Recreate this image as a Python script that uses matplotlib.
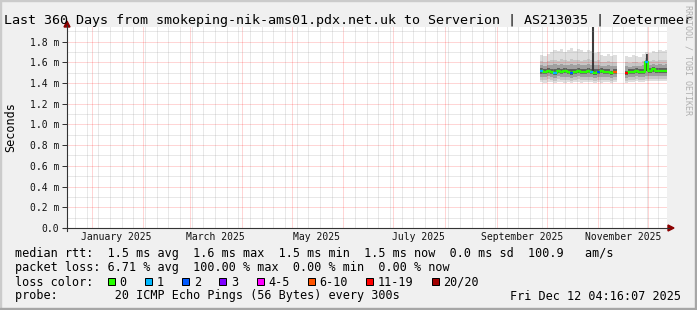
import numpy as np
import pandas as pd
import matplotlib
matplotlib.use("Agg")
import matplotlib.pyplot as plt
import matplotlib.dates as mdates
from matplotlib.lines import Line2D
from matplotlib.patches import Polygon, Rectangle
from matplotlib.ticker import MultipleLocator, FuncFormatter

W, H = 697, 310
MONO = "DejaVu Sans Mono"
plt.rcParams["font.family"] = [MONO, "DejaVu Sans"]

nan = np.nan

title = "Last 360 Days from smokeping-nik-ams01.pdx.net.uk to Serverion | AS213035 | Zoetermeer"
chart_start = "2024-12-17 04:16:07"
chart_end = "2025-12-12 04:16:07"

# consolidated samples (2 days each), rows with nan = no data
sample_times = [
    "2025-09-27", "2025-09-29", "2025-10-01", "2025-10-03", "2025-10-05", "2025-10-07",
    "2025-10-09", "2025-10-11", "2025-10-13", "2025-10-15", "2025-10-17", "2025-10-19",
    "2025-10-21", "2025-10-23", "2025-10-25", "2025-10-27", "2025-10-29", "2025-10-31",
    "2025-11-02", "2025-11-04", "2025-11-06", "2025-11-08", "2025-11-10", "2025-11-12",
    "2025-11-17", "2025-11-19", "2025-11-21", "2025-11-23", "2025-11-25", "2025-11-27",
    "2025-11-29", "2025-12-01", "2025-12-03", "2025-12-05", "2025-12-07", "2025-12-09",
    "2025-12-11", "2025-12-12 04:16:07",
]
# milliseconds
median_rtt = [1.52, 1.51, 1.52, 1.51, 1.50, 1.52, 1.51, 1.52, 1.51, 1.50, 1.51, 1.52,
              1.51, 1.51, 1.52, 1.51, 1.50, 1.51, 1.52, 1.51, 1.51, 1.50, 1.51, nan,
              1.50, 1.51, 1.51, 1.52, 1.51, 1.51, 1.60, 1.52, 1.53, 1.52, 1.52, 1.52,
              1.52, nan]
loss_pings = [1, 0, 0, 0, 1, 0, 0, 0, 0, 2, 0, 0,
              0, 0, 0, 1, 0, 2, 0, 0, 0, 0, 7, nan,
              12, 0, 0, 0, 0, 0, 1, 0, 0, 0, 0, 0,
              0, nan]
smoke_max = [1.67, 1.66, 1.68, 1.70, 1.72, 1.71, 1.73, 1.70, 1.72, 1.74, 1.71, 1.73,
             1.72, 1.70, 1.72, 1.71, 1.69, 1.70, 1.67, 1.66, 1.68, 1.66, 1.67, nan,
             1.66, 1.65, 1.67, 1.66, 1.65, 1.68, 1.70, 1.69, 1.71, 1.70, 1.72, 1.71,
             1.72, nan]
smoke_p90 = [1.61, 1.60, 1.61, 1.62, 1.62, 1.61, 1.63, 1.62, 1.61, 1.63, 1.62, 1.62,
             1.61, 1.62, 1.63, 1.62, 1.61, 1.62, 1.60, 1.60, 1.61, 1.60, 1.60, nan,
             1.60, 1.59, 1.60, 1.60, 1.59, 1.61, 1.64, 1.61, 1.62, 1.61, 1.62, 1.62,
             1.62, nan]
smoke_p75 = [1.57, 1.56, 1.57, 1.57, 1.58, 1.57, 1.58, 1.57, 1.57, 1.58, 1.57, 1.58,
             1.57, 1.57, 1.58, 1.57, 1.57, 1.57, 1.56, 1.56, 1.57, 1.56, 1.56, nan,
             1.56, 1.55, 1.56, 1.56, 1.56, 1.57, 1.62, 1.57, 1.58, 1.57, 1.58, 1.57,
             1.58, nan]
smoke_p60 = [1.54, 1.53, 1.54, 1.53, 1.53, 1.54, 1.53, 1.54, 1.53, 1.53, 1.53, 1.54,
             1.53, 1.53, 1.54, 1.53, 1.53, 1.53, 1.54, 1.53, 1.53, 1.52, 1.53, nan,
             1.52, 1.53, 1.53, 1.54, 1.53, 1.53, 1.61, 1.54, 1.55, 1.54, 1.54, 1.54,
             1.54, nan]
smoke_p40 = [1.49, 1.49, 1.50, 1.49, 1.48, 1.50, 1.49, 1.50, 1.49, 1.48, 1.49, 1.50,
             1.49, 1.49, 1.50, 1.49, 1.48, 1.49, 1.50, 1.49, 1.49, 1.48, 1.49, nan,
             1.48, 1.49, 1.49, 1.50, 1.49, 1.49, 1.52, 1.50, 1.51, 1.50, 1.50, 1.50,
             1.50, nan]
smoke_p25 = [1.46, 1.46, 1.47, 1.46, 1.45, 1.47, 1.46, 1.46, 1.46, 1.45, 1.46, 1.47,
             1.46, 1.46, 1.46, 1.46, 1.45, 1.46, 1.46, 1.46, 1.46, 1.45, 1.46, nan,
             1.45, 1.46, 1.46, 1.47, 1.46, 1.46, 1.47, 1.47, 1.47, 1.47, 1.47, 1.47,
             1.47, nan]
smoke_p10 = [1.43, 1.43, 1.44, 1.43, 1.42, 1.44, 1.43, 1.43, 1.43, 1.42, 1.43, 1.44,
             1.43, 1.43, 1.43, 1.43, 1.42, 1.43, 1.43, 1.43, 1.43, 1.42, 1.43, nan,
             1.42, 1.43, 1.43, 1.44, 1.43, 1.43, 1.44, 1.44, 1.44, 1.44, 1.44, 1.44,
             1.44, nan]
smoke_min = [1.41, 1.40, 1.41, 1.41, 1.40, 1.41, 1.41, 1.40, 1.41, 1.40, 1.41, 1.41,
             1.40, 1.41, 1.41, 1.41, 1.40, 1.41, 1.40, 1.41, 1.41, 1.40, 1.41, nan,
             1.40, 1.41, 1.41, 1.42, 1.41, 1.41, 1.42, 1.42, 1.42, 1.42, 1.42, 1.42,
             1.42, nan]

# single-step outliers
spike_times = ["2025-10-28 12:00", "2025-11-30 00:00"]
spike_low = [1.51, 1.52]
spike_high = [1.96, 1.68]

label_months = ["2025-01-01", "2025-03-01", "2025-05-01", "2025-07-01", "2025-09-01", "2025-11-01"]
label_texts = ["January 2025", "March 2025", "May 2025", "July 2025", "September 2025", "November 2025"]

loss_labels = ["0", "1", "2", "3", "4-5", "6-10", "11-19", "20/20"]
loss_colors = ["#26ff00", "#00b8ff", "#0059ff", "#7e00ff", "#ff00ff", "#ff5500", "#ff0000", "#a10000"]
loss_upper = [0, 1, 2, 3, 5, 10, 19, 20]

legend_lines = [
    "median rtt:  1.5 ms avg  1.6 ms max  1.5 ms min  1.5 ms now  0.0 ms sd  100.9   am/s",
    "packet loss: 6.71 % avg  100.00 % max  0.00 % min  0.00 % now",
]
probe_text = "probe:        20 ICMP Echo Pings (56 Bytes) every 300s"
stamp_text = "Fri Dec 12 04:16:07 2025"


def px(x, y):
    """pixel position -> figure fraction"""
    return x / W, 1 - y / H


def loss_color(n):
    for up, col in zip(loss_upper, loss_colors):
        if n <= up:
            return col
    return loss_colors[-1]


fig = plt.figure(figsize=(W / 100, H / 100), dpi=100, facecolor="#f0f0f0")
ax = fig.add_axes([67 / W, 1 - 228 / H, 600 / W, 201 / H])
ax.set_facecolor("white")
for s in ax.spines.values():
    s.set_visible(False)

t = mdates.date2num(pd.to_datetime(sample_times, format="ISO8601"))


def steps(v):
    v = np.asarray(v, dtype=float)
    return np.repeat(t, 2)[1:], np.repeat(v, 2)[:-1]


# smoke
smoke_layers = [
    (smoke_min, smoke_max, "#dedede"),
    (smoke_p10, smoke_p90, "#c6c6c6"),
    (smoke_p25, smoke_p75, "#a0a0a0"),
    (smoke_p40, smoke_p60, "#606060"),
]
for lo, hi, col in smoke_layers:
    xs, ylo = steps(lo)
    _, yhi = steps(hi)
    ax.fill_between(xs, ylo, yhi, color=col, lw=0, zorder=1)

ax.vlines(mdates.date2num(pd.to_datetime(spike_times, format="ISO8601")), spike_low, spike_high,
          color="#3c3c3c", lw=1.5, zorder=2)

# median line coloured by loss
xs, ym = steps(median_rtt)
ax.plot(xs, ym, color=loss_colors[0], lw=1.6, zorder=3, solid_capstyle="butt")
for i in range(len(t) - 1):
    if not np.isnan(loss_pings[i]) and loss_pings[i] > 0:
        ax.hlines(median_rtt[i], t[i], t[i + 1], color=loss_color(loss_pings[i]),
                  lw=1.6, zorder=4)

ax.set_xlim(mdates.date2num(pd.Timestamp(chart_start)), mdates.date2num(pd.Timestamp(chart_end)))
ax.set_ylim(0, 1.94)

# grid
ax.xaxis.set_major_locator(mdates.MonthLocator())
ax.xaxis.set_minor_locator(mdates.WeekdayLocator(byweekday=mdates.SU))
ax.yaxis.set_major_locator(MultipleLocator(0.2))
ax.yaxis.set_minor_locator(MultipleLocator(0.1))
ax.set_axisbelow(False)
ax.grid(which="minor", color="#9a9a9a", alpha=0.45, ls=(0, (1, 1)), lw=0.72)
ax.grid(which="major", color="#ff0000", alpha=0.33, ls=(0, (1, 1)), lw=0.72)

ax.yaxis.set_major_formatter(FuncFormatter(lambda v, p: "0.0" if abs(v) < 1e-9 else f"{v:.1f} m"))
ax.tick_params(axis="y", which="major", length=3.5, width=0.72, color="#333333",
               pad=2.2, labelsize=7, labelcolor="#111111")
ax.tick_params(axis="y", which="minor", length=0)
ax.tick_params(axis="x", which="both", length=0, labelbottom=False)

for m, txt in zip(label_months, label_texts):
    xm = mdates.date2num(pd.Timestamp(m) + pd.Timedelta(days=15))
    ax.text(xm, (228 - 240.5) / 201, txt, transform=ax.get_xaxis_transform(),
            ha="center", va="baseline", fontsize=7, color="#111111")

# axis lines with arrows
axis_col = "#333333"
fig.add_artist(Line2D([px(63, 0)[0], px(669, 0)[0]], [px(0, 228)[1]] * 2,
                      color=axis_col, lw=0.8, transform=fig.transFigure))
fig.add_artist(Line2D([px(67, 0)[0]] * 2, [px(0, 231)[1], px(0, 25)[1]],
                      color=axis_col, lw=0.8, transform=fig.transFigure))
fig.add_artist(Polygon([px(64, 27), px(70, 27), px(67, 21)], closed=True,
                       color="#8b0000", transform=fig.transFigure))
fig.add_artist(Polygon([px(668, 225), px(668, 231), px(674, 228)], closed=True,
                       color="#8b0000", transform=fig.transFigure))

# texts
fig.text(*px(348.5, 24), title, ha="center", va="baseline", fontsize=9.65, color="black")
fig.text(*px(10.5, 127.5), "Seconds", rotation=90, ha="center", va="center", fontsize=8.5)
fig.text(*px(688, 60), "RRDTOOL / TOBI OETIKER", rotation=270, ha="center", va="center",
         fontsize=6, color="#b0b0b0")

base = 257.5
for i, line in enumerate(legend_lines):
    fig.text(*px(15, base + 14 * i), line, ha="left", va="baseline", fontsize=8.5)
fig.text(*px(15, base + 28), "loss color:", ha="left", va="baseline", fontsize=8.5)
bx = 108
for lab, col in zip(loss_labels, loss_colors):
    fig.add_artist(Rectangle(px(bx, 285), 7 / W, 7 / H, facecolor=col, edgecolor="black",
                             lw=0.72, transform=fig.transFigure))
    fig.text(*px(bx + 11.5, base + 28), lab, ha="left", va="baseline", fontsize=8.5)
    bx += 12.5 + 7.13 * len(lab) + 17.5
fig.text(*px(15, base + 42), probe_text, ha="left", va="baseline", fontsize=8.5)
fig.text(*px(681, base + 42), stamp_text, ha="right", va="baseline", fontsize=8.5)

# border shading
fig.add_artist(Rectangle((0, 1 - 1 / H), 1, 1 / H, color="#cbcbcb", transform=fig.transFigure))
fig.add_artist(Rectangle((0, 0), 1 / W, 1, color="#cbcbcb", transform=fig.transFigure))
fig.add_artist(Rectangle((0, 0), 1, 2 / H, color="#a6a6a6", transform=fig.transFigure))
fig.add_artist(Rectangle((1 - 2 / W, 0), 2 / W, 1, color="#a6a6a6", transform=fig.transFigure))

fig.savefig("out.png", dpi=100, facecolor=fig.get_facecolor())
